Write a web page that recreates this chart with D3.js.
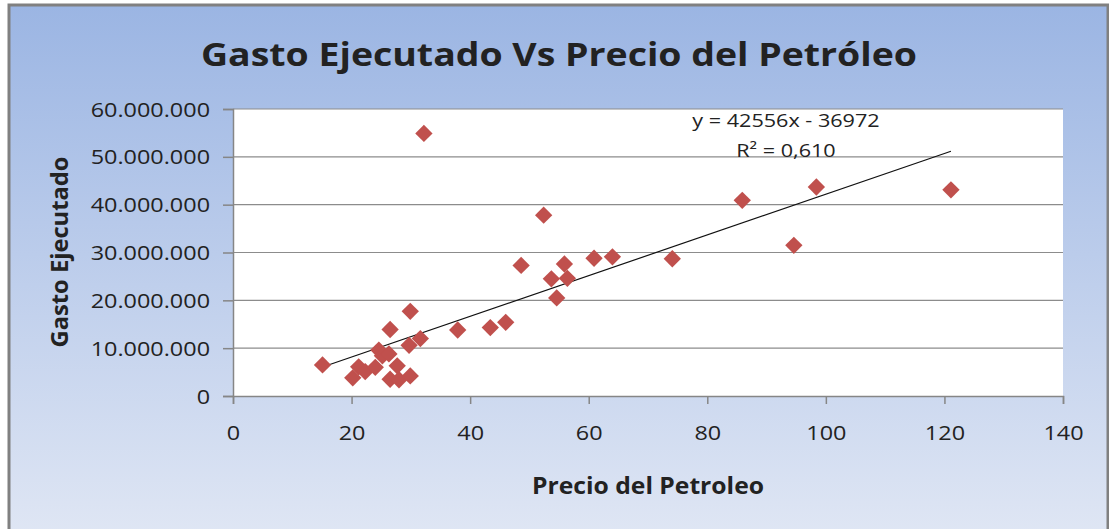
<!DOCTYPE html>
<html lang="es">
<head>
  <meta charset="UTF-8" />
  <title>Gasto Ejecutado Vs Precio del Petróleo</title>
  <style>
    body { margin: 0; background: #fff; }
    svg text { font-family: "Open Sans", "DejaVu Sans", sans-serif; fill: #222; }
  </style>
</head>
<body>
  <svg id="chart" width="1109" height="529"></svg>

  <script src="https://d3js.org/d3.v7.min.js"></script>
  <script>
    // precio del petroleo (x) and gasto ejecutado (y)
    const precio = [15.1, 20.2, 21.2, 22.3, 24.0, 24.6, 25.2, 26.3, 26.5, 26.5,
      27.7, 28.0, 29.9, 29.9, 29.7, 31.6, 32.2, 37.9, 43.4, 46.0,
      48.6, 52.4, 53.7, 54.6, 55.9, 56.4, 60.9, 64.0, 74.1, 85.9,
      94.6, 98.4, 121.1];
    const gasto = [6.5, 3.8, 6.1, 5.1, 6.0, 9.6, 8.4, 8.8, 13.9, 3.5,
      6.3, 3.4, 4.2, 17.7, 10.6, 12.0, 54.9, 13.8, 14.3, 15.4,
      27.3, 37.8, 24.5, 20.5, 27.6, 24.6, 28.8, 29.1, 28.7, 40.9,
      31.5, 43.7, 43.1].map(v => v * 1e6);

    const xTicks = [0, 20, 40, 60, 80, 100, 120, 140];
    const yTicks = [0, 10e6, 20e6, 30e6, 40e6, 50e6, 60e6];

    // linear trend as printed on the chart
    const trendSlope = 425560;
    const trendIntercept = -369720;
    const trendLabel = "y = 42556x - 36972";
    const r2Label = "R\u00B2 = 0,610";

    const svg = d3.select("#chart");
    const W = 1109, H = 529;
    const pLeft = 233, pRight = 1063, pTop = 109, pBottom = 396;
    const stretch = 1.17; // the original text is drawn wider than normal

    function widen(sel, k) {
      sel.each(function () {
        const w = this.getComputedTextLength();
        d3.select(this).attr("textLength", w * k).attr("lengthAdjust", "spacingAndGlyphs");
      });
    }

    // background gradient + frame
    const defs = svg.append("defs");
    const grad = defs.append("linearGradient")
      .attr("id", "bg").attr("x1", 0).attr("y1", 0).attr("x2", 0).attr("y2", 1);
    grad.append("stop").attr("offset", "0%").attr("stop-color", "#9bb5e3");
    grad.append("stop").attr("offset", "100%").attr("stop-color", "#dfe6f4");

    svg.append("rect").attr("width", W).attr("height", H).attr("fill", "#fff");
    svg.append("rect")
      .attr("x", 9).attr("y", 5).attr("width", W - 10).attr("height", H)
      .attr("fill", "url(#bg)")
      .attr("stroke", "#808080").attr("stroke-width", 3);

    const x = d3.scaleLinear().domain([0, 140]).range([pLeft, pRight]);
    const y = d3.scaleLinear().domain([0, 60e6]).range([pBottom, pTop]);

    // plot area
    svg.append("rect")
      .attr("x", pLeft).attr("y", pTop)
      .attr("width", pRight - pLeft).attr("height", pBottom - pTop)
      .attr("fill", "#fff");

    const es = d3.formatLocale({ decimal: ",", thousands: ".", grouping: [3], currency: ["$", ""] });
    const fmt = es.format(",d");

    // gridlines
    svg.append("g")
      .selectAll("line")
      .data(yTicks.filter(d => d > 0))
      .enter()
      .append("line")
      .attr("x1", pLeft).attr("x2", pRight)
      .attr("y1", d => y(d)).attr("y2", d => y(d))
      .attr("stroke", "#8c8c8c").attr("stroke-width", 1.2);

    const yAxis = svg.append("g")
      .attr("transform", `translate(${pLeft},0)`)
      .call(d3.axisLeft(y).tickValues(yTicks).tickFormat(fmt).tickSize(10).tickPadding(13));
    const xAxis = svg.append("g")
      .attr("transform", `translate(0,${pBottom})`)
      .call(d3.axisBottom(x).tickValues(xTicks).tickSize(8).tickPadding(22));

    [yAxis, xAxis].forEach(ax => {
      ax.select(".domain").attr("stroke", "#868686").attr("stroke-width", 1.5);
      ax.selectAll(".tick line").attr("stroke", "#868686").attr("stroke-width", 1.5);
      ax.selectAll(".tick text")
        .attr("font-family", "\"Open Sans\", sans-serif")
        .attr("font-size", 20)
        .attr("fill", "#222");
      widen(ax.selectAll(".tick text"), stretch);
    });
    yAxis.selectAll(".tick text").attr("dy", "0.35em");

    // trend line
    const xr = d3.extent(precio);
    svg.append("line")
      .attr("x1", x(xr[0])).attr("y1", y(trendSlope * xr[0] + trendIntercept))
      .attr("x2", x(xr[1])).attr("y2", y(trendSlope * xr[1] + trendIntercept))
      .attr("stroke", "#111").attr("stroke-width", 1.2);

    // points
    const pts = precio.map((p, i) => ({ p: p, g: gasto[i] }));
    svg.append("g")
      .selectAll("path")
      .data(pts)
      .enter()
      .append("path")
      .attr("d", d3.symbol().type(d3.symbolSquare).size(150))
      .attr("transform", d => `translate(${x(d.p)},${y(d.g)}) rotate(45)`)
      .attr("fill", "#c0504d");

    // equation labels
    const eq = svg.append("text")
      .attr("x", 786).attr("y", 127)
      .attr("text-anchor", "middle")
      .attr("font-size", 18)
      .text(trendLabel);
    const r2 = svg.append("text")
      .attr("x", 786).attr("y", 157)
      .attr("text-anchor", "middle")
      .attr("font-size", 18)
      .text(r2Label);
    widen(eq, 1.2);
    widen(r2, 1.2);

    // titles
    svg.append("text")
      .attr("x", 559).attr("y", 66)
      .attr("text-anchor", "middle")
      .attr("font-family", "Lato, \"Open Sans\", sans-serif")
      .attr("font-size", 33).attr("font-weight", "bold")
      .attr("textLength", 716).attr("lengthAdjust", "spacingAndGlyphs")
      .attr("fill", "#000")
      .text("Gasto Ejecutado Vs Precio del Petróleo");

    svg.append("text")
      .attr("x", 648).attr("y", 494)
      .attr("text-anchor", "middle")
      .attr("font-family", "Lato, \"Open Sans\", sans-serif")
      .attr("font-size", 24).attr("font-weight", "bold")
      .attr("textLength", 232).attr("lengthAdjust", "spacingAndGlyphs")
      .attr("fill", "#111")
      .text("Precio del Petroleo");

    svg.append("text")
      .attr("transform", "translate(68,252) rotate(-90)")
      .attr("text-anchor", "middle")
      .attr("font-family", "Lato, \"Open Sans\", sans-serif")
      .attr("font-size", 24).attr("font-weight", "bold")
      .attr("textLength", 191).attr("lengthAdjust", "spacingAndGlyphs")
      .attr("fill", "#111")
      .text("Gasto Ejecutado");
  </script>
</body>
</html>
